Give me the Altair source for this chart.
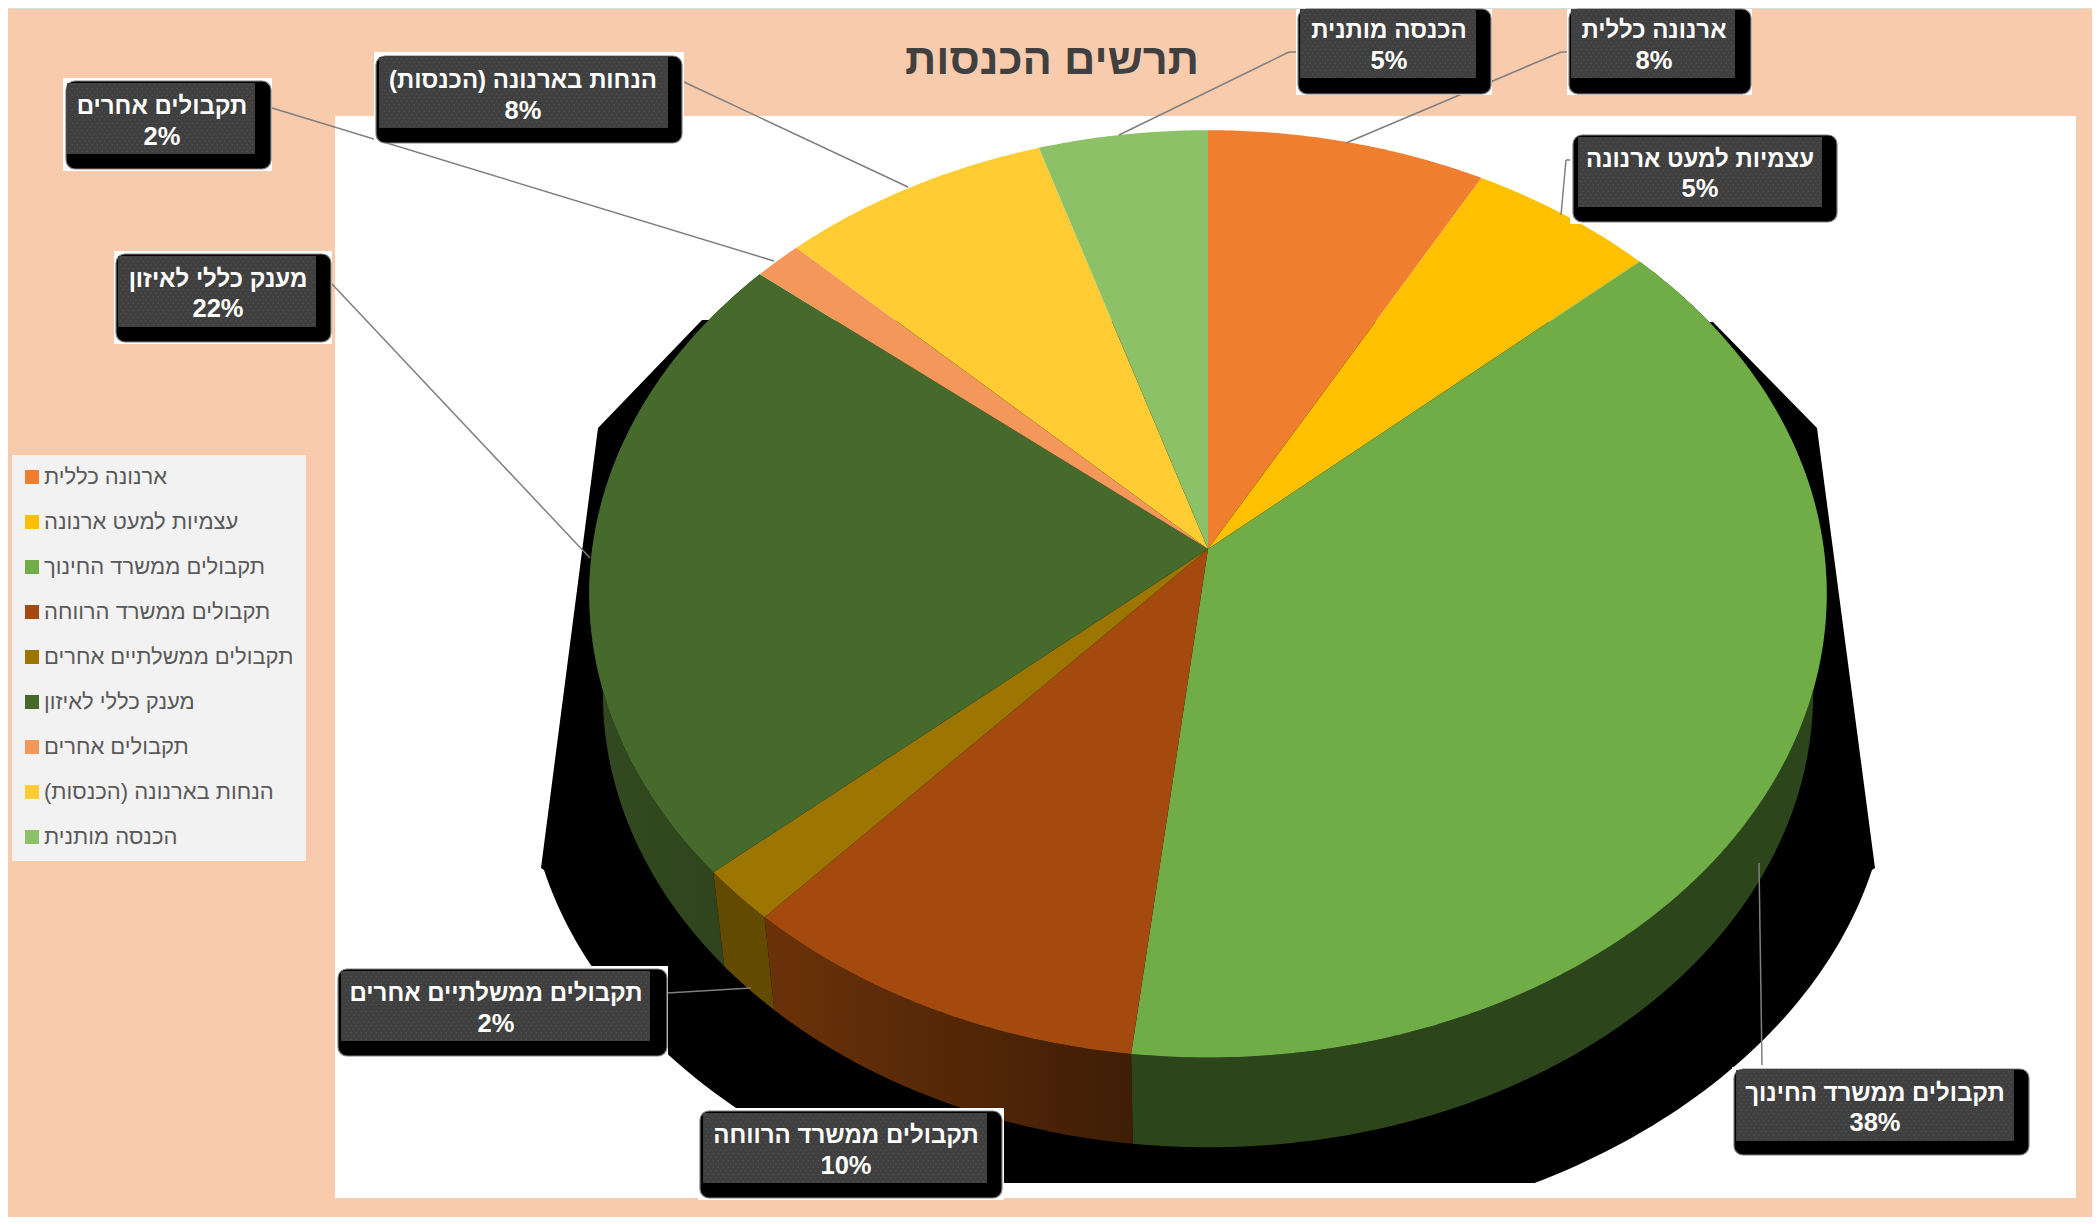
import math
import altair as alt
import pandas as pd

# ---------- data ----------
NAMES = ["ארנונה כללית", "עצמיות למעט ארנונה", "תקבולים ממשרד החינוך", "תקבולים ממשרד הרווחה",
         "תקבולים ממשלתיים אחרים", "מענק כללי לאיזון", "תקבולים אחרים", "הנחות בארנונה (הכנסות)", "הכנסה מותנית"]
VALUES = [8.0, 5.4, 38.4, 9.85, 1.9, 22.4, 1.4, 7.8, 4.85]
PCT_LABELS = ["8%", "5%", "38%", "10%", "2%", "22%", "2%", "8%", "5%"]
COLORS = ["#F07E2F", "#FFC000", "#70AD47", "#A44A0F", "#9C7502", "#46692C", "#F3975A", "#FFCD33", "#8CC168"]
TITLE = "תרשים הכנסות"

# ---------- layout (reference pixels) ----------
W, H = 2100, 1225
M = 8  # page margin
CX, CY, RX, RY, PERSP = 1208, 549, 615.8, 459.3, 0.0967
BCY, BK = 650, 0.978  # rim of the lower face
SHADOW_CY, SHADOW_A, SHADOW_B, SHADOW_FLOOR = 760, 682, 482, 1183

# name-box layout: white (x0,x1,y0,y1), black (x0,x1,y0,y1), inner (x0,x1,y0,y1), text centre, line y's
BOXES = {
    0: ((1567, 1752, 9, 95), (1569, 1751, 9, 94), (1571, 1735, 9, 78), 1654, 31, 61),
    1: ((1570, 1838, 133, 224), (1573, 1837, 135, 222), (1578, 1822, 137, 207), 1700, 160, 189),
    2: ((1732, 2030, 1067, 1157), (1734, 2029, 1069, 1155), (1736, 2014, 1070, 1141), 1875, 1094, 1123),
    3: ((698, 1004, 1108, 1200), (700, 1002, 1111, 1198), (703, 987, 1113, 1183), 846, 1136, 1166),
    4: ((337, 668, 966, 1058), (338, 667, 969, 1056), (341, 650, 971, 1041), 496, 994, 1024),
    5: ((114, 332, 251, 344), (116, 331, 254, 342), (118, 316, 256, 327), 218, 280, 309),
    6: ((63, 272, 78, 171), (66, 271, 81, 169), (67, 255, 83, 154), 162, 107, 137),
    7: ((374, 684, 52, 143), (376, 682, 56, 143), (379, 668, 57, 128), 523, 81, 111),
    8: ((1296, 1492, 9, 95), (1298, 1491, 9, 94), (1300, 1476, 9, 78), 1389, 31, 61),
}
LEADERS = [
    (272, 108, 774, 261), (684, 82, 908, 187), (332, 284, 590, 558),
    (1296, 52, 1289, 52), (1289, 52, 1119, 135),
    (1567, 52, 1561, 52), (1561, 52, 1346, 143),
    (1573, 160, 1566, 160), (1566, 160, 1561, 215),
    (667, 993, 751, 988), (1759, 863, 1762, 1065),
]


def rim(t_deg, cy=CY, k=1.0):
    t = math.radians(t_deg)
    X, Y = math.sin(t), math.cos(t)
    w = 1 + PERSP * Y
    return [CX + k * RX * X / w - M, cy - k * RY * Y / w - M]


def feature(ring, name):
    ring = ring + [ring[0]]
    return {"type": "Feature", "properties": {"name": name},
            "geometry": {"type": "Polygon", "coordinates": [ring]}}


def arc_range(a, b, step=0.5):
    n = max(2, int((b - a) / step))
    return [a + (b - a) * i / n for i in range(n + 1)]


edges = [0.0]
for v in VALUES:
    edges.append(edges[-1] + v * 360 / sum(VALUES))

top_faces, walls = [], {}
for i, name in enumerate(NAMES):
    ts = arc_range(edges[i], edges[i + 1])
    top_faces.append(feature([[CX - M, CY - M]] + [rim(t) for t in ts], name))
    walls[i] = feature([rim(t) for t in ts] + [rim(t, BCY, BK) for t in reversed(ts)], name)

# drop shadow outline
shadow = [[598, 428], [702, 320], [1713, 322], [1817, 428], [1875, 868]]
for a in arc_range(13.2, 166.8, 1):
    r = math.radians(a)
    shadow.append([CX + SHADOW_A * math.cos(r),
                   min(SHADOW_CY + SHADOW_B * math.sin(r), SHADOW_FLOOR)])
shadow.append([541, 868])
shadow = [[x - M, y - M] for x, y in shadow]

PROJ = dict(type="identity", scale=1, translate=[0, 0])


def geo(values, **mark):
    return alt.Chart(alt.Data(values=values)).mark_geoshape(strokeWidth=0, **mark).project(**PROJ)


def rects(rows, **mark):
    df = pd.DataFrame(rows, columns=["x0", "x1", "y0", "y1"]) - M
    return alt.Chart(df).mark_rect(**mark).encode(
        x=alt.X("x0:Q", scale=None), x2="x1:Q",
        y=alt.Y("y0:Q", scale=None), y2="y1:Q")


order = list(BOXES)
base = rects([(0, W, 9, H)], color="#F8CBAD")
strip = rects([(0, W, M, 9)], color="#D9DED9")
plot_area = rects([(335, 2076, 116, 1198)], color="#FFFFFF")
legend_box = rects([(12, 306, 455, 861)], color="#F2F2F2")

shadow_layer = geo([feature(shadow, "shadow")], color="#000000")

wall_styles = {
    5: alt.Gradient(gradient="linear", x1=0, x2=1, y1=0, y2=0,
                    stops=[alt.GradientStop(offset=0, color="#33491F"), alt.GradientStop(offset=1, color="#2E431C")]),
    4: "#624A00",
    3: alt.Gradient(gradient="linear", x1=0, x2=1, y1=0, y2=0,
                    stops=[alt.GradientStop(offset=0, color="#6B3209"), alt.GradientStop(offset=1, color="#3F1D06")]),
    2: "#2D451B",
}
wall_layers = [geo([walls[i]], fill=c) for i, c in wall_styles.items()]

top_layer = geo(top_faces).encode(
    color=alt.Color("properties.name:N",
                    scale=alt.Scale(domain=NAMES, range=COLORS),
                    legend=alt.Legend(title=None, orient="none", legendX=13, legendY=458,
                                      symbolType="square", symbolSize=196, symbolStrokeWidth=0,
                                      labelFont="Liberation Sans", labelFontSize=22, labelColor="#595959",
                                      labelOffset=1, labelLimit=400, rowPadding=23, padding=0,
                                      symbolOpacity=1,
                                      labelExpr="datum.label + '\u200f'")))

lead_df = pd.DataFrame(LEADERS, columns=["x0", "y0", "x1", "y1"]) - M
leaders = alt.Chart(lead_df).mark_rule(color="#7F7F7F", strokeWidth=1.5).encode(
    x=alt.X("x0:Q", scale=None), x2="x1:Q", y=alt.Y("y0:Q", scale=None), y2="y1:Q")

white_boxes = rects([BOXES[i][0] for i in order], color="#FFFFFF")
black_boxes = rects([BOXES[i][1] for i in order], color="#000000", cornerRadius=9,
                    stroke="#808080", strokeWidth=1.2)
inner_boxes = rects([BOXES[i][2] for i in order], color="#3F3F3F")

dots = []
for i in order:
    x0, x1, y0, y1 = BOXES[i][2]
    row, y = 0, y0 + 2
    while y < y1:
        dots.append((x0 + 2 + (row % 2) * 2.5, x1 - 1, y))
        y += 3.5
        row += 1
dots_df = pd.DataFrame(dots, columns=["x0", "x1", "y"]) - M
dot_layer = alt.Chart(dots_df).mark_rule(color="#555555", strokeWidth=1, strokeDash=[1.5, 3.5]).encode(
    x=alt.X("x0:Q", scale=None), x2="x1:Q", y=alt.Y("y:Q", scale=None))

label_df = pd.DataFrame({
    "x": [BOXES[i][3] - M for i in order],
    "y1": [BOXES[i][4] - M for i in order],
    "y2": [BOXES[i][5] - M for i in order],
    "name": [NAMES[i] + "\u200f" for i in order],
    "pct": [PCT_LABELS[i] for i in order],
})
LABEL_STYLE = dict(font="Liberation Sans", fontWeight="bold", color="#FFFFFF",
                   align="center", baseline="middle")
name_text = alt.Chart(label_df).mark_text(fontSize=24, **LABEL_STYLE).encode(
    x=alt.X("x:Q", scale=None), y=alt.Y("y1:Q", scale=None), text="name:N")
pct_text = alt.Chart(label_df).mark_text(fontSize=25.5, **LABEL_STYLE).encode(
    x=alt.X("x:Q", scale=None), y=alt.Y("y2:Q", scale=None), text="pct:N")

title_text = alt.Chart(pd.DataFrame({"x": [1052 - M], "y": [61 - M], "t": [TITLE]})).mark_text(
    font="Liberation Sans", fontSize=43.5, fontWeight="bold", color="#404040",
    align="center", baseline="middle").encode(
    x=alt.X("x:Q", scale=None), y=alt.Y("y:Q", scale=None), text="t:N")

chart = alt.layer(
    base, strip, plot_area, legend_box, title_text, shadow_layer, *wall_layers, top_layer, leaders,
    white_boxes, black_boxes, inner_boxes, dot_layer, name_text, pct_text,
).properties(
    width=W - 2 * M, height=H - 2 * M, padding=0, background="#F8CBAD",
    autosize=alt.AutoSizeParams(type="none"),
).configure_view(stroke=None)

chart.save("out.html", embed_options={"renderer": "svg", "actions": False})
